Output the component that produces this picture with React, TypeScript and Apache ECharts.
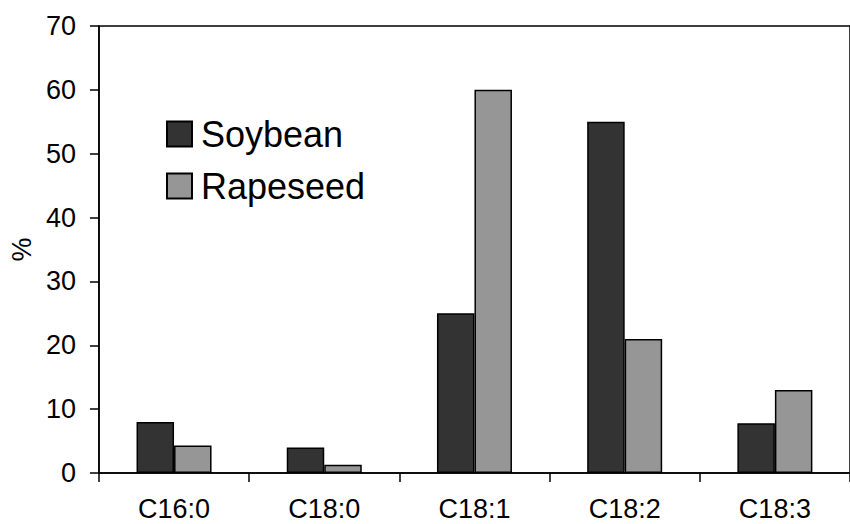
import React, { useEffect, useRef } from "react";
import * as echarts from "echarts";

const categories = ["C16:0", "C18:0", "C18:1", "C18:2", "C18:3"];
const soybean = [8, 4, 25, 55, 7.8];
const rapeseed = [4.3, 1.3, 60, 21, 13];
const yTicks = { min: 0, max: 70, interval: 10 };

export default function App() {
  const ref = useRef<HTMLDivElement>(null);
  useEffect(() => {
    if (!ref.current) return;
    const chart = echarts.init(ref.current, null, { renderer: "svg" });
    const font = "Liberation Sans, Arial, sans-serif";
    chart.setOption({
      animation: false,
      backgroundColor: "#fff",
      grid: {
        left: 93,
        right: -10,
        top: 26,
        bottom: 51,
        show: true,
        borderColor: "#000",
        borderWidth: 1.5,
      },
      legend: {
        orient: "vertical",
        left: 166,
        top: 116,
        padding: 0,
        itemWidth: 25,
        itemHeight: 25,
        itemGap: 16,
        icon: "rect",
        textStyle: { fontSize: 36, fontFamily: font, color: "#000", lineHeight: 36, padding: [0, 0, 0, 4] },
        data: ["Soybean", "Rapeseed"],
      },
      xAxis: {
        type: "category",
        data: categories,
        axisLine: { lineStyle: { color: "#000", width: 1.5 } },
        axisTick: { show: true, inside: false, length: 9, alignWithLabel: false, lineStyle: { color: "#000", width: 1.5 } },
        axisLabel: { color: "#000", fontSize: 27, fontFamily: font, margin: 22 },
      },
      yAxis: {
        type: "value",
        min: yTicks.min,
        max: yTicks.max,
        interval: yTicks.interval,
        name: "%",
        nameLocation: "middle",
        nameGap: 53,
        nameTextStyle: { color: "#000", fontSize: 27, fontFamily: font },
        splitLine: { show: false },
        axisLine: { show: true, lineStyle: { color: "#000", width: 1.5 } },
        axisTick: { show: true, inside: false, length: 9, lineStyle: { color: "#000", width: 1.5 } },
        axisLabel: { color: "#000", fontSize: 27, fontFamily: font, margin: 23 },
      },
      series: [
        {
          name: "Soybean",
          type: "bar",
          data: soybean,
          barWidth: 37.5,
          barGap: "0%",
          itemStyle: { color: "#333333", borderColor: "#000", borderWidth: 1.5 },
        },
        {
          name: "Rapeseed",
          type: "bar",
          data: rapeseed,
          barWidth: 37.5,
          barGap: "0%",
          itemStyle: { color: "#969696", borderColor: "#000", borderWidth: 1.5 },
        },
      ],
    });
    return () => chart.dispose();
  }, []);
  return <div ref={ref} style={{ width: 850, height: 524, position: "absolute", left: 0, top: 0 }} />;
}
